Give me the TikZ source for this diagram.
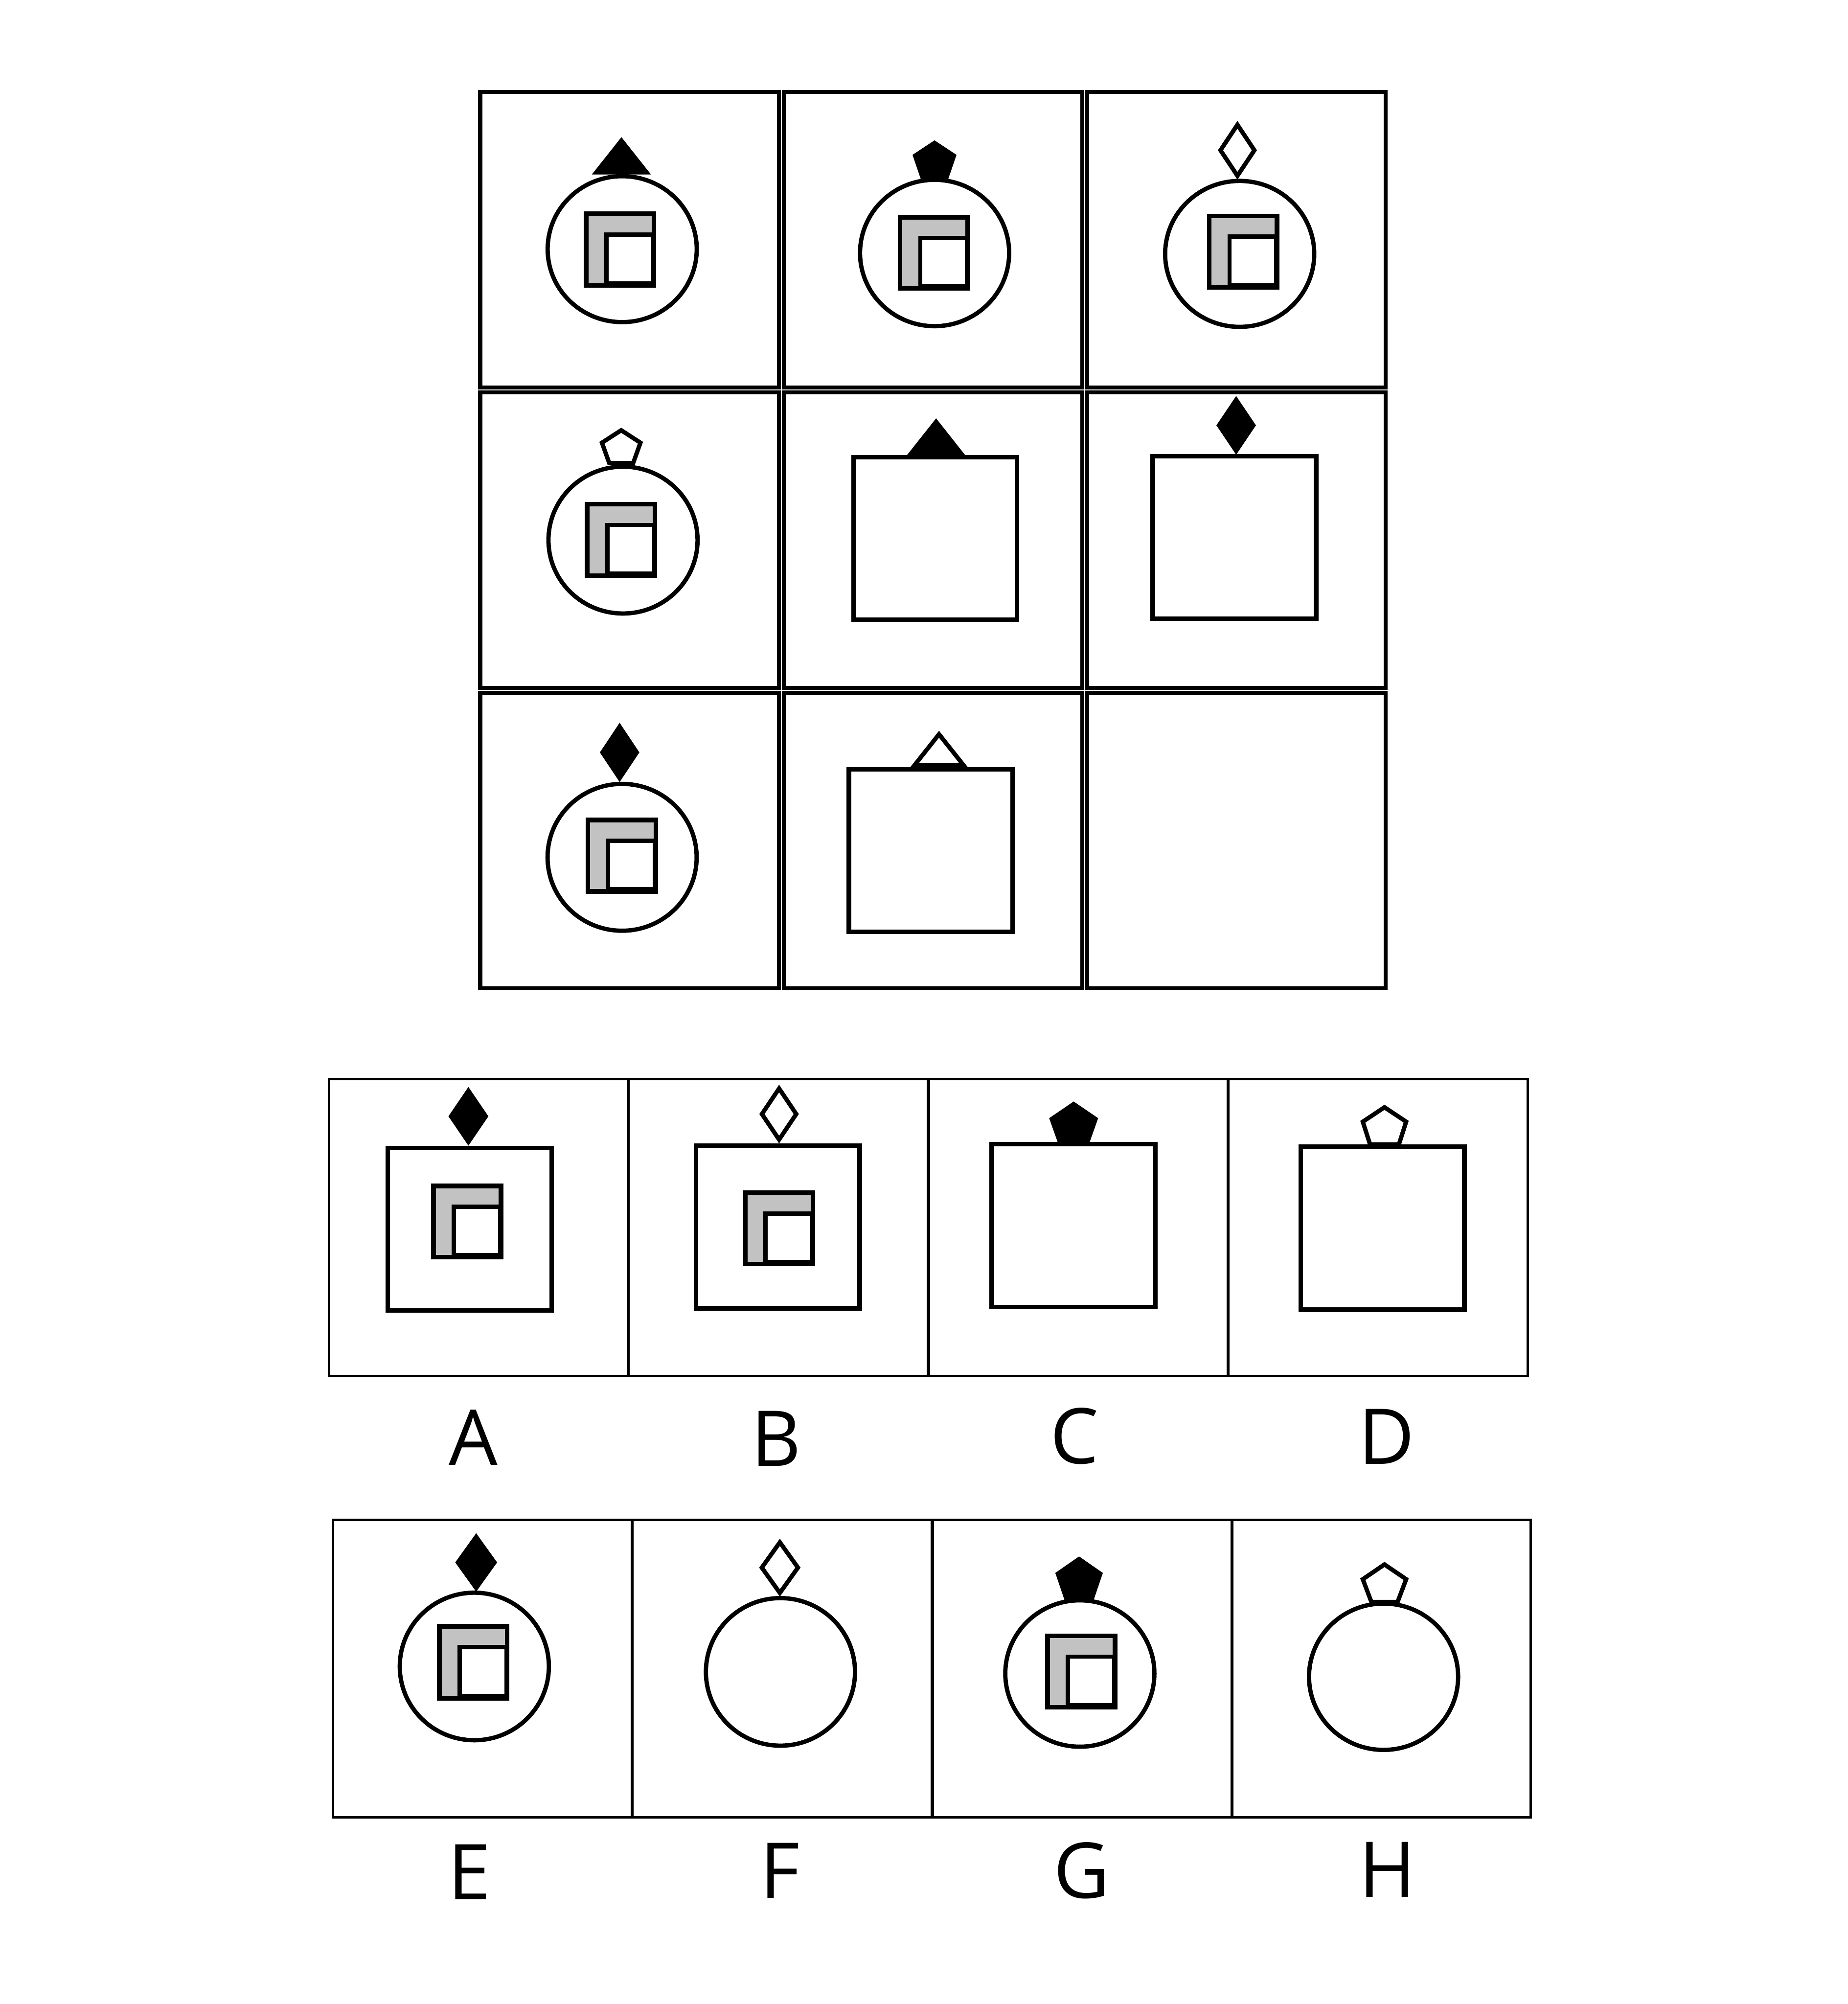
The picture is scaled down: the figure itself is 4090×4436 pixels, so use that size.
\documentclass[tikz,border=0pt]{standalone}
\usepackage{fontspec}
\setmainfont{Open Sans}
\definecolor{lshade}{HTML}{C2C2C2}
\tikzset{
  x=0.02cm,y=-0.02cm,
  every path/.style={line join=miter,miter limit=12},
  cellbox/.style={draw=black,line width=0.18cm},
  optframe/.style={draw=black,line width=0.11cm},
  optdiv/.style={draw=black,line width=0.14cm},
  figline/.style={draw=black,line width=0.19cm},
  boxline/.style={draw=black,line width=0.205cm},
  solidmark/.style={draw=black,fill=black,line width=0.19cm},
  hollowmark/.style={draw=black,fill=white,line width=0.19cm},
  shadebox/.style={draw=black,fill=lshade,line width=0.205cm},
  whitebox/.style={draw=black,fill=white,line width=0.19cm},
  letter/.style={inner sep=0pt,outer sep=0pt,anchor=base,font=\fontsize{97pt}{97pt}\selectfont},
}
% diamond: style, cx, cy, half width, half height (centre line)
\newcommand{\Dmark}[5]{\path[#1] (#2,#3-#5) -- (#2+#4,#3) -- (#2,#3+#5) -- (#2-#4,#3) -- cycle;}
% triangle: style, cx, apex y, base y, half width
\newcommand{\Tmark}[5]{\path[#1] (#2,#3) -- (#2+#5,#4) -- (#2-#5,#4) -- cycle;}
% pentagon: style, cx, apex y, shoulder half, shoulder y, base half, base y
\newcommand{\Pmark}[7]{\path[#1] (#2,#3) -- (#2+#4,#5) -- (#2+#6,#7) -- (#2-#6,#7) -- (#2-#4,#5) -- cycle;}
% large square from outer edges L R T B
\newcommand{\Bigsq}[4]{\path[boxline] (#1+5,#3+5) rectangle (#2-5,#4-5);}
% shaded corner box from outer edges L R T B
\newcommand{\Corner}[4]{\path[shadebox] (#1+5,#3+5) rectangle (#2-5,#4-5);
  \path[whitebox] (#1+50,#3+51) rectangle (#2-6.5,#4-9.5);}
% ring: cx cy rx ry
\newcommand{\Ring}[4]{\path[figline] (#1,#2) ellipse [x radius=#3,y radius=#4];}
\begin{document}
\begin{tikzpicture}
\useasboundingbox (-1.5,0) rectangle (4088.5,4436);
\fill[white] (-1.5,0) rectangle (4088.5,4436);

% main grid
\foreach \xa/\xb in {1061.5/1722.3,1733.5/2394,2405/3065.5}
  \foreach \ya/\yb in {203.5/857.5,868.5/1523,1533.5/2188}
    \path[cellbox] (\xa,\ya) rectangle (\xb,\yb);

% row 1
\Tmark{solidmark}{1374}{311.3}{381.5}{55.6}
\Ring{1375.7}{551.5}{165}{161.5}
\Corner{1291}{1451}{468.3}{636.7}

\Pmark{solidmark}{2067}{316.4}{43}{344.7}{27}{391.5}
\Ring{2067.2}{560}{165}{162}
\Corner{1985.6}{2145.9}{476}{643.7}

\Dmark{hollowmark}{2737.5}{332.6}{37.5}{56.5}
\Ring{2742.5}{562}{165}{161.5}
\Corner{2670}{2830}{473}{641}

% row 2
\Pmark{hollowmark}{1373.5}{952.4}{42.6}{980}{26.5}{1025}
\Ring{1377.5}{1195.5}{165}{162.5}
\Corner{1293}{1453}{1111}{1279}

\Tmark{solidmark}{2070.5}{933.7}{1004.5}{56}
\Bigsq{1882.5}{2254.6}{1007}{1376.8}

\Dmark{solidmark}{2734.7}{941.5}{38}{56.5}
\Bigsq{2545}{2917}{1005}{1374.7}

% row 3
\Dmark{solidmark}{1370}{1665.5}{38}{57}
\Ring{1375.5}{1897.7}{165}{162.5}
\Corner{1294.6}{1455}{1810}{1978}

\Tmark{hollowmark}{2077}{1625.3}{1693.5}{54}
\Bigsq{1872.7}{2244.8}{1698}{2067.8}

% options A-D
\path[optframe] (727,2388.5) rectangle (3380,3045.5);
\foreach \xd in {1389,2053.5,2717}
  \path[optdiv] (\xd,2388.5) -- (\xd,3045.5);

\Dmark{solidmark}{1035.3}{2471}{38.5}{56.5}
\Bigsq{852}{1224.3}{2536}{2906}
\Corner{953}{1112.7}{2620}{2788}

\Dmark{hollowmark}{1723}{2466}{38}{56.5}
\Bigsq{1534}{1906.4}{2531}{2901}
\Corner{1643}{1803}{2635}{2803}

\Pmark{solidmark}{2375}{2444}{48.5}{2477}{32}{2523.5}
\Bigsq{2188.75}{2561}{2527.7}{2898}

\Pmark{hollowmark}{3063}{2451}{48}{2483}{32}{2533}
\Bigsq{2872.7}{3245}{2533.5}{2904}

\node[letter] (la) at (1046,3243) {A};
\node[letter] (lb) at (1717,3245) {B};
\node[letter] (lc) at (2377,3240) {C};
\node[letter] (ld) at (3068,3241) {D};

% options E-H
\path[optframe] (735.5,3364.5) rectangle (3387,4022.5);
\foreach \xd in {1397.5,2062,2725.5}
  \path[optdiv] (\xd,3364.5) -- (\xd,4022.5);

\Dmark{solidmark}{1052.5}{3458.5}{40.5}{56.5}
\Ring{1048.4}{3688.8}{165}{163.3}
\Corner{966}{1126}{3595}{3764}

\Dmark{hollowmark}{1724.7}{3470}{40}{56}
\Ring{1726}{3700.8}{165}{163.3}

\Pmark{solidmark}{2387}{3451}{47}{3483.6}{29}{3536.5}
\Ring{2388.7}{3704.4}{165}{162}
\Corner{2312}{2471.8}{3616}{3784}

\Pmark{hollowmark}{3063}{3463}{48}{3495.7}{29}{3546}
\Ring{3061}{3711.5}{165}{162}

\node[letter] (le) at (1037.5,4205) {E};
\node[letter] (lf) at (1725,4201) {F};
\node[letter] (lg) at (2393,4202) {G};
\node[letter] (lh) at (3069,4199) {H};
\end{tikzpicture}
\end{document}
